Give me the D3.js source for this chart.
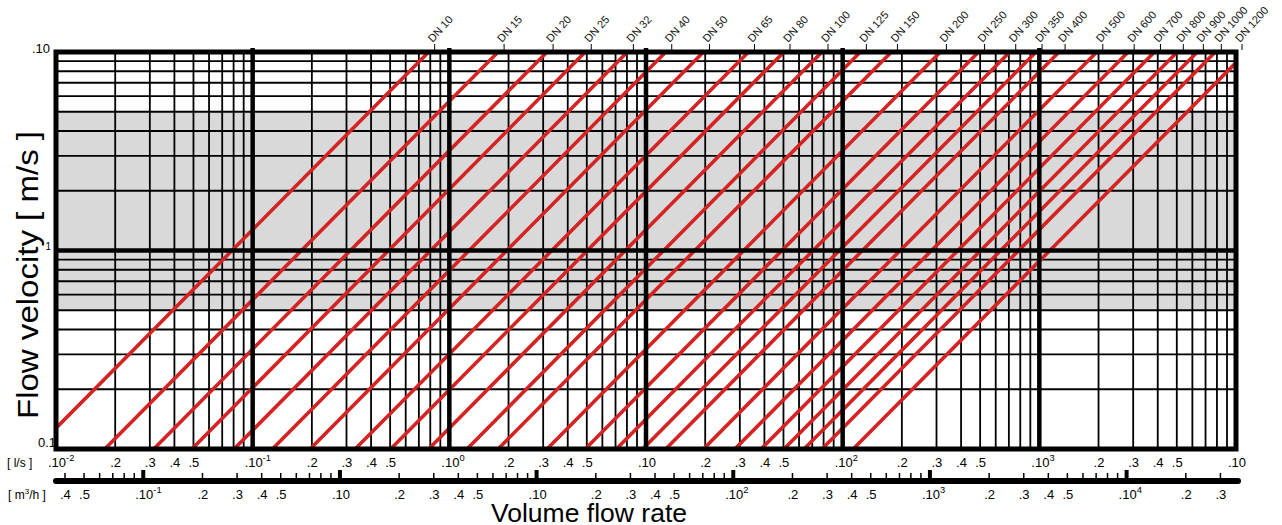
<!DOCTYPE html>
<html>
<head>
<meta charset="utf-8">
<script src="https://cdn.jsdelivr.net/npm/d3@7"></script>
<style>
  body { margin: 0; background: #fff; }
  svg { display: block; font-family: Arial, "Liberation Sans", sans-serif; }
</style>
</head>
<body>
<svg width="1282" height="525"></svg>
<script>
// pipe sizes and the flow (l/s) where each line crosses 1 m/s
var dnLabels = ["DN 10", "DN 15", "DN 20", "DN 25", "DN 32", "DN 40", "DN 50", "DN 65", "DN 80",
                "DN 100", "DN 125", "DN 150", "DN 200", "DN 250", "DN 300", "DN 350", "DN 400",
                "DN 500", "DN 600", "DN 700", "DN 800", "DN 900", "DN 1000", "DN 1200"];
var flowAt1ms = [0.0785, 0.177, 0.314, 0.491, 0.804, 1.26, 1.96, 3.32, 5.03,
                 7.85, 12.3, 17.7, 31.4, 49.1, 70.7, 96.2, 126,
                 196, 283, 385, 503, 636, 785, 1131];

// l/s axis labels
var lsTicks = [0.01, 0.02, 0.03, 0.04, 0.05, 0.1, 0.2, 0.3, 0.4, 0.5, 1, 2, 3, 4, 5,
               10, 20, 30, 40, 50, 100, 200, 300, 400, 500, 1000, 2000, 3000, 4000, 5000, 10000];
var lsText = [".10", ".2", ".3", ".4", ".5", ".10", ".2", ".3", ".4", ".5", ".10", ".2", ".3", ".4", ".5",
              ".10", ".2", ".3", ".4", ".5", ".10", ".2", ".3", ".4", ".5", ".10", ".2", ".3", ".4", ".5", ".10"];
var lsSup = ["-2", "", "", "", "", "-1", "", "", "", "", "0", "", "", "", "",
             "", "", "", "", "", "2", "", "", "", "", "3", "", "", "", "", ""];

// m3/h axis labels
var m3hTicks = [0.04, 0.05, 0.1, 0.2, 0.3, 0.4, 0.5, 1, 2, 3, 4, 5, 10, 20, 30, 40, 50,
                100, 200, 300, 400, 500, 1000, 2000, 3000, 4000, 5000, 10000, 20000, 30000];
var m3hText = [".4", ".5", ".10", ".2", ".3", ".4", ".5", ".10", ".2", ".3", ".4", ".5", ".10", ".2", ".3", ".4", ".5",
               ".10", ".2", ".3", ".4", ".5", ".10", ".2", ".3", ".4", ".5", ".10", ".2", ".3"];
var m3hSup = ["", "", "-1", "", "", "", "", "", "", "", "", "", "", "", "", "", "",
              "2", "", "", "", "", "3", "", "", "", "", "4", "", ""];

var bandLow = 0.5, bandHigh = 5;

(function () {
  var left = 56, right = 1236, plotTop = 52, bottom = 449;
  var svg = d3.select("svg");

  var x = d3.scaleLog().domain([0.01, 10000]).range([left, right]);
  var y = d3.scaleLog().domain([0.1, 10]).range([bottom, plotTop]);
  var xm = d3.scaleLog().domain([0.036, 36000]).range([left, right]);

  function isDecade(d) {
    var l = Math.log10(d);
    return Math.abs(l - Math.round(l)) < 1e-9;
  }

  svg.append("rect").attr("width", 1282).attr("height", 525).attr("fill", "#fff");

  // shaded band
  svg.append("rect")
    .attr("x", left).attr("y", y(bandHigh))
    .attr("width", right - left).attr("height", y(bandLow) - y(bandHigh))
    .attr("fill", "#d9d9d9");

  // thin grid
  svg.append("g").selectAll("line")
    .data(x.ticks().filter(function (d) { return !isDecade(d); }))
    .enter().append("line")
    .attr("x1", function (d) { return x(d); }).attr("x2", function (d) { return x(d); })
    .attr("y1", plotTop).attr("y2", bottom)
    .attr("stroke", "#000").attr("stroke-width", 1.8);

  svg.append("g").selectAll("line")
    .data(y.ticks().filter(function (d) { return !isDecade(d); }))
    .enter().append("line")
    .attr("y1", function (d) { return y(d); }).attr("y2", function (d) { return y(d); })
    .attr("x1", left).attr("x2", right)
    .attr("stroke", "#000").attr("stroke-width", 1.8);

  // pipe lines
  svg.append("clipPath").attr("id", "plot")
    .append("rect").attr("x", left).attr("y", plotTop).attr("width", right - left).attr("height", bottom - plotTop);

  var line = d3.line()
    .x(function (d) { return x(d[0]); })
    .y(function (d) { return y(d[1]); });

  svg.append("g").attr("clip-path", "url(#plot)").selectAll("path")
    .data(flowAt1ms)
    .enter().append("path")
    .attr("d", function (q) { return line([[q * 0.1, 0.1], [q * 10, 10]]); })
    .attr("stroke", "#d42323").attr("stroke-width", 3.6).attr("fill", "none");

  // decade lines
  svg.append("g").selectAll("line")
    .data([0.1, 1, 10, 100, 1000])
    .enter().append("line")
    .attr("x1", function (d) { return x(d); }).attr("x2", function (d) { return x(d); })
    .attr("y1", plotTop - 4).attr("y2", bottom)
    .attr("stroke", "#000").attr("stroke-width", 4.5);

  svg.append("line")
    .attr("x1", left).attr("x2", right).attr("y1", y(1)).attr("y2", y(1))
    .attr("stroke", "#000").attr("stroke-width", 4.5);

  // y labels
  svg.append("text").attr("x", 50).attr("y", 53).attr("text-anchor", "end")
    .attr("font-size", 13).text(".10");
  svg.append("text").attr("x", 51).attr("y", 250).attr("text-anchor", "end")
    .attr("font-size", 10).text("1");
  svg.append("text").attr("x", 56).attr("y", 447).attr("text-anchor", "end")
    .attr("font-size", 13).text("0.1");

  // frame
  svg.append("rect")
    .attr("x", left).attr("y", plotTop).attr("width", right - left).attr("height", bottom - plotTop)
    .attr("fill", "none").attr("stroke", "#000").attr("stroke-width", 5);

  // DN labels at the top, slanted
  var lab = svg.append("g");
  flowAt1ms.forEach(function (q, i) {
    var lx = Math.min(x(q * 10) + 6, 1242);
    lab.append("line").attr("x1", lx).attr("x2", lx).attr("y1", plotTop - 2).attr("y2", plotTop - 8)
      .attr("stroke", "#000").attr("stroke-width", 1);
    lab.append("g")
      .attr("transform", "translate(" + (lx - 2) + "," + (plotTop - 9) + ")")
      .append("text")
      .attr("transform", "rotate(-48)")
      .attr("font-size", 11).attr("fill", "#111")
      .text(dnLabels[i]);
  });

  // y title
  svg.append("text")
    .attr("transform", "translate(38,275) rotate(-90)")
    .attr("text-anchor", "middle").attr("font-size", 30)
    .attr("textLength", 288).attr("lengthAdjust", "spacingAndGlyphs")
    .text("Flow velocity [ m/s ]");

  function addLabel(g, px, py, txt, sup, fs) {
    var t = g.append("text").attr("x", px).attr("y", py).attr("font-size", fs);
    t.append("tspan").text(txt);
    if (sup) t.append("tspan").attr("dy", -6).attr("font-size", fs * 0.72).text(sup);
  }

  // l/s row
  var ax1 = svg.append("g");
  ax1.append("text").attr("x", 7).attr("y", 467).attr("font-size", 12).text("[ l/s ]");
  lsTicks.forEach(function (v, i) {
    var off = lsText[i] === ".10" ? 8 : 5;
    addLabel(ax1, x(v) - off, 467, lsText[i], lsSup[i], 13);
  });

  // m3/h bar with ticks
  var ax2 = svg.append("g");
  ax2.append("line").attr("x1", left).attr("x2", right + 2).attr("y1", 481).attr("y2", 481)
    .attr("stroke", "#000").attr("stroke-width", 6).attr("stroke-linecap", "round");
  ax2.selectAll(".tk")
    .data(xm.ticks().filter(function (d) { return xm(d) >= left + 2 && xm(d) <= right; }))
    .enter().append("line")
    .attr("x1", function (d) { return xm(d); }).attr("x2", function (d) { return xm(d); })
    .attr("y1", function (d) { return isDecade(d) ? 470 : 473; }).attr("y2", 479)
    .attr("stroke", "#000").attr("stroke-width", function (d) { return isDecade(d) ? 4 : 1.5; });

  var unit = ax2.append("text").attr("x", 8).attr("y", 499).attr("font-size", 12);
  unit.append("tspan").text("[ m");
  unit.append("tspan").attr("dy", -5).attr("font-size", 8).text("3");
  unit.append("tspan").attr("dy", 5).text("/h ]");

  m3hTicks.forEach(function (v, i) {
    var off = m3hText[i] === ".10" ? 8 : 5;
    addLabel(ax2, xm(v) - off, 499, m3hText[i], m3hSup[i], 13);
  });

  // x title
  svg.append("text").attr("x", 491).attr("y", 522).attr("font-size", 26)
    .attr("textLength", 196).attr("lengthAdjust", "spacingAndGlyphs")
    .text("Volume flow rate");
})();
</script>
</body>
</html>
